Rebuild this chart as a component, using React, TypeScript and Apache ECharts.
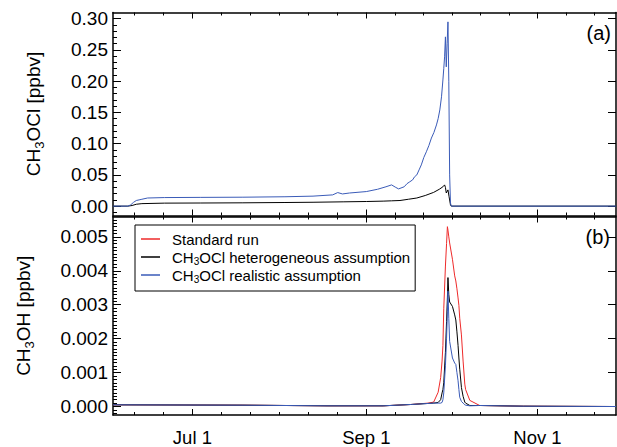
import React, { useEffect, useRef } from "react";
import * as echarts from "echarts";

// ---- x axis (day of year) ----
const xMin = 153.7;
const xMax = 333;
const majorDays = [182, 244, 305];
const majorLabels = ["Jul 1", "Sep 1", "Nov 1"];
const minorDays = [161.33, 171.67, 192.33, 202.67, 213, 223.33, 233.67, 254.17, 264.33, 274.5, 284.67, 294.83, 315.17, 325.33];

// ---- panel (a): CH3OCl ----
const aMin = -0.015;
const aMax = 0.31;
const aMajor = [0, 0.05, 0.1, 0.15, 0.2, 0.25, 0.3];
const aMinor = [-0.01, 0.01, 0.02, 0.03, 0.04, 0.06, 0.07, 0.08, 0.09, 0.11, 0.12, 0.13, 0.14, 0.16, 0.17, 0.18, 0.19, 0.21, 0.22, 0.23, 0.24, 0.26, 0.27, 0.28, 0.29];

const aBlueDays = [153.7, 159, 160, 161, 162, 163, 164, 166, 172, 185, 200, 215, 225, 232, 233.8, 235.5, 238, 244, 248, 251, 253, 254.5, 255.5, 257.5, 258.5, 259.5, 260.5, 261.2, 262, 262.8, 263.6, 264.5, 265.4, 266.3, 267.2, 268.1, 269, 269.6, 270.2, 270.8, 271.3, 271.6, 271.9, 272.2, 272.5, 272.8, 273.1, 273.4, 273.7, 274.0, 274.3, 333];
const aBlue = [0, 0, 0.002, 0.006, 0.009, 0.01, 0.011, 0.013, 0.0137, 0.014, 0.0143, 0.015, 0.016, 0.018, 0.0217, 0.0195, 0.021, 0.0233, 0.027, 0.031, 0.034, 0.03, 0.0276, 0.031, 0.036, 0.039, 0.042, 0.047, 0.05, 0.058, 0.066, 0.078, 0.087, 0.097, 0.109, 0.118, 0.13, 0.14, 0.154, 0.175, 0.202, 0.22, 0.239, 0.271, 0.223, 0.26, 0.295, 0.2, 0.05, 0.005, 0, 0];

const aBlackDays = [153.7, 159, 160.5, 162, 164, 172, 185, 200, 215, 225, 236, 244, 250, 253, 256, 259, 262, 265, 268, 270, 271.3, 271.9, 272.2, 272.5, 273.1, 273.5, 274, 274.3, 333];
const aBlack = [0, 0, 0.001, 0.003, 0.004, 0.0048, 0.005, 0.0053, 0.0058, 0.0062, 0.0069, 0.0074, 0.008, 0.0085, 0.009, 0.011, 0.013, 0.017, 0.022, 0.027, 0.031, 0.034, 0.03, 0.021, 0.026, 0.015, 0.002, 0, 0];

// ---- panel (b): CH3OH ----
const bMin = -0.00025;
const bMax = 0.0056;
const bMajor = [0, 0.001, 0.002, 0.003, 0.004, 0.005];
const bMinor = [-0.0002, -0.0001, 0.0001, 0.0002, 0.0003, 0.0004, 0.0005, 0.0006, 0.0007, 0.0008, 0.0009, 0.0011, 0.0012, 0.0013, 0.0014, 0.0015, 0.0016, 0.0017, 0.0018, 0.0019, 0.0021, 0.0022, 0.0023, 0.0024, 0.0025, 0.0026, 0.0027, 0.0028, 0.0029, 0.0031, 0.0032, 0.0033, 0.0034, 0.0035, 0.0036, 0.0037, 0.0038, 0.0039, 0.0041, 0.0042, 0.0043, 0.0044, 0.0045, 0.0046, 0.0047, 0.0048, 0.0049, 0.0051, 0.0052, 0.0053, 0.0054, 0.0055];

const bDays = [153.7, 200, 230, 250, 260, 266, 268, 269.6, 270.5, 271, 271.3, 271.6, 272.2, 272.6, 272.9, 273.1, 273.4, 273.7, 274.7, 275.5, 275.9, 276.3, 276.7, 277, 277.3, 277.9, 278.5, 279.1, 279.4, 280.9, 284.4, 300, 333];
const bRed = [0.00005, 0.00004, 0.00002, 0.00002, 0.00006, 0.0001, 0.00013, 0.00042, 0.00085, 0.00134, 0.0018, 0.00288, 0.00414, 0.0048, 0.0053, 0.0052, 0.005, 0.00482, 0.00434, 0.00385, 0.0037, 0.00347, 0.0032, 0.00298, 0.0026, 0.00211, 0.00134, 0.00066, 0.0005, 0.00018, 0.00003, 0.00001, 0];
const bBlack = [0.00005, 0.00004, 0.00002, 0.00002, 0.00006, 0.00009, 0.0001, 0.00012, 0.0002, 0.0004, 0.0005, 0.0007, 0.0016, 0.0025, 0.0032, 0.0038, 0.0033, 0.00308, 0.00295, 0.0027, 0.00255, 0.0022, 0.0018, 0.00143, 0.0011, 0.00056, 0.0003, 0.00013, 0.0001, 0.00003, 0.00003, 0.00001, 0];
const bBlue = [0.00005, 0.00004, 0.00002, 0.00002, 0.00006, 0.00009, 0.0001, 0.0001, 0.0001, 0.00012, 0.0002, 0.0004, 0.0012, 0.002, 0.0028, 0.0034, 0.0026, 0.00192, 0.00143, 0.00128, 0.00124, 0.001, 0.00076, 0.0005, 0.00027, 0.00015, 0.0001, 0.00005, 0.00004, 0.00002, 0.00003, 0.00001, 0];

const seriesNames = ["Standard run", "CH3OCl heterogeneous assumption", "CH3OCl realistic assumption"];
const colors = ["#ee2a2a", "#000000", "#3a5bb8"];

const FONT = "'Liberation Sans', Arial, Helvetica, sans-serif";

const zip = (xs: number[], ys: number[]) => xs.map((x, i) => [x, ys[i]]);

export default function App() {
  const ref = useRef<HTMLDivElement>(null);
  useEffect(() => {
    if (!ref.current) return;
    const chart = echarts.init(ref.current, undefined, { renderer: "svg" });
    const lineCol = "#000";
    const grids = [
      { left: 113, top: 12.5, width: 503, height: 203 },
      { left: 113, top: 216.5, width: 503, height: 201.5 },
    ];
    const xAxes: any[] = [];
    grids.forEach((_, g) => {
      const base = { type: "value", gridIndex: g, min: xMin, max: xMax, splitLine: { show: false } };
      xAxes.push({
        ...base,
        position: "bottom",
        axisLine: { show: true, onZero: false, lineStyle: { color: lineCol, width: 1.5 } },
        axisTick: { show: true, inside: true, length: 6, customValues: majorDays, lineStyle: { color: lineCol, width: 1 } },
        axisLabel: {
          show: g === 1,
          customValues: majorDays,
          formatter: (v: number) => majorLabels[majorDays.indexOf(v)] ?? "",
          fontSize: 18.5,
          fontFamily: FONT,
          color: "#000",
          margin: 13,
        },
      });
      xAxes.push({
        ...base,
        position: "bottom",
        axisLine: { show: false, onZero: false },
        axisTick: { show: true, inside: true, length: 3, customValues: minorDays, lineStyle: { color: lineCol, width: 1 } },
        axisLabel: { show: false },
      });
      xAxes.push({
        ...base,
        position: "top",
        axisLine: { show: true, onZero: false, lineStyle: { color: lineCol, width: 1.5 } },
        axisTick: { show: true, inside: true, length: 6, customValues: majorDays, lineStyle: { color: lineCol, width: 1 } },
        axisLabel: { show: false },
      });
      xAxes.push({
        ...base,
        position: "top",
        axisLine: { show: false, onZero: false },
        axisTick: { show: true, inside: true, length: 3, customValues: minorDays, lineStyle: { color: lineCol, width: 1 } },
        axisLabel: { show: false },
      });
    });

    const richName = {
      n: { fontSize: 19, fontFamily: FONT, color: "#000", lineHeight: 26, verticalAlign: "middle" },
      s: { fontSize: 13, fontFamily: FONT, color: "#000", lineHeight: 26, verticalAlign: "bottom" },
    };
    const yAxes: any[] = [];
    const panels = [
      { min: aMin, max: aMax, major: aMajor, minor: aMinor, dec: 2, name: "{n|CH}{s|3}{n|OCl [ppbv]}", gap: 67 },
      { min: bMin, max: bMax, major: bMajor, minor: bMinor, dec: 3, name: "{n|CH}{s|3}{n|OH [ppbv]}", gap: 77 },
    ];
    panels.forEach((p, g) => {
      const base = { type: "value", gridIndex: g, min: p.min, max: p.max, splitLine: { show: false } };
      yAxes.push({
        ...base,
        position: "left",
        name: p.name,
        nameLocation: "middle",
        nameRotate: 90,
        nameGap: p.gap,
        nameTextStyle: { rich: richName },
        axisLine: { show: true, onZero: false, lineStyle: { color: lineCol, width: 1.5 } },
        axisTick: { show: true, inside: true, length: 8, customValues: p.major, lineStyle: { color: lineCol, width: 1 } },
        axisLabel: {
          customValues: p.major,
          formatter: (v: number) => v.toFixed(p.dec),
          fontSize: 19,
          fontFamily: FONT,
          color: "#000",
          margin: 5,
        },
      });
      yAxes.push({
        ...base,
        position: "left",
        axisLine: { show: false, onZero: false },
        axisTick: { show: true, inside: true, length: 4, customValues: p.minor, lineStyle: { color: lineCol, width: 1 } },
        axisLabel: { show: false },
      });
      yAxes.push({
        ...base,
        position: "right",
        axisLine: { show: true, onZero: false, lineStyle: { color: lineCol, width: 1.5 } },
        axisTick: { show: true, inside: true, length: 8, customValues: p.major, lineStyle: { color: lineCol, width: 1 } },
        axisLabel: { show: false },
      });
    });

    const mk = (name: string, color: string, data: number[][], xi: number, yi: number, z: number) => ({
      type: "line",
      name,
      data,
      xAxisIndex: xi,
      yAxisIndex: yi,
      symbol: "none",
      showSymbol: false,
      z,
      lineStyle: { color, width: 1 },
      itemStyle: { color },
    });

    const legendRich = {
      n: { fontSize: 15, fontFamily: FONT, color: "#000", lineHeight: 18, verticalAlign: "middle" },
      s: { fontSize: 10, fontFamily: FONT, color: "#000", lineHeight: 18, verticalAlign: "bottom" },
    };

    chart.setOption({
      animation: false,
      backgroundColor: "#fff",
      grid: grids,
      xAxis: xAxes,
      yAxis: yAxes,
      legend: {
        data: seriesNames.map((n) => ({ name: n, icon: "rect" })),
        left: 135,
        top: 225,
        orient: "vertical",
        itemWidth: 19,
        itemHeight: 1.5,
        itemGap: 0,
        padding: [5, 5, 7, 6],
        borderColor: "#000",
        borderWidth: 1,
        backgroundColor: "#fff",
        textStyle: { fontSize: 15, fontFamily: FONT, color: "#000", rich: legendRich, padding: [0, 0, 0, 7], lineHeight: 17 },
        formatter: (name: string) =>
          name.startsWith("CH3") ? "{n|CH}{s|3}{n|" + name.slice(3) + "}" : "{n|" + name + "}",
      },
      graphic: [
        { type: "text", x: 611, y: 33, style: { text: "(a)", fontSize: 20, fontFamily: FONT, fill: "#000", textAlign: "right", textVerticalAlign: "middle" } },
        { type: "text", x: 610, y: 237, style: { text: "(b)", fontSize: 20, fontFamily: FONT, fill: "#000", textAlign: "right", textVerticalAlign: "middle" } },
      ],
      series: [
        mk(seriesNames[1], colors[1], zip(aBlackDays, aBlack), 0, 0, 2),
        mk(seriesNames[2], colors[2], zip(aBlueDays, aBlue), 0, 0, 3),
        mk(seriesNames[0], colors[0], zip(bDays, bRed), 4, 3, 2),
        mk(seriesNames[1], colors[1], zip(bDays, bBlack), 4, 3, 3),
        mk(seriesNames[2], colors[2], zip(bDays, bBlue), 4, 3, 4),
      ],
    });
    return () => chart.dispose();
  }, []);
  return <div ref={ref} style={{ position: "fixed", left: 0, top: 0, width: 617, height: 447 }} />;
}
